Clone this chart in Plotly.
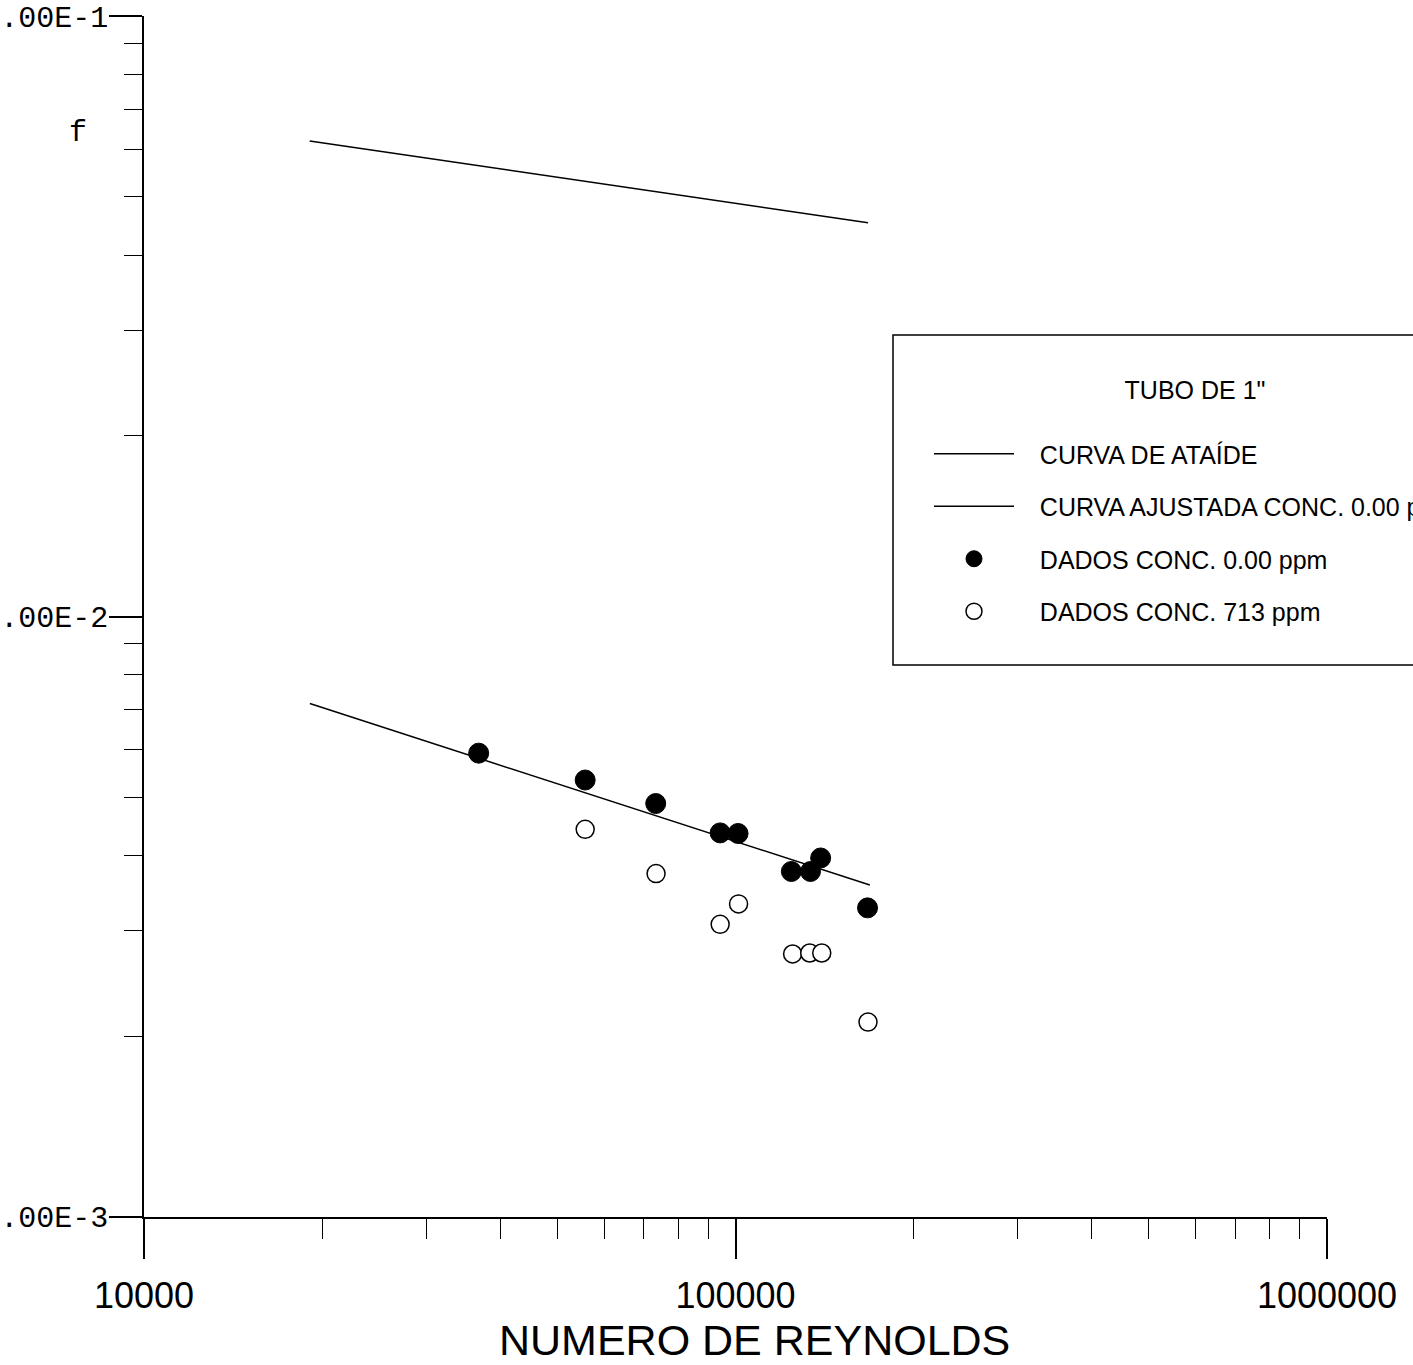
import plotly.graph_objects as go

# ---- data ----
re_ataide = [19060, 167500]
f_ataide = [0.0620, 0.0453]

re_fit = [19070, 168700]
f_fit = [0.00716, 0.00357]

re_0ppm = [36800, 55700, 73300, 94200, 101000, 124300, 133900, 139300, 167200]
f_0ppm = [0.00592, 0.00534, 0.00488, 0.00436, 0.00435, 0.00376, 0.00376, 0.00396, 0.00327]

re_713ppm = [55700, 73400, 94200, 101200, 124900, 133500, 139900, 167500]
f_713ppm = [0.00442, 0.00373, 0.00307, 0.00332, 0.00274, 0.00275, 0.00275, 0.00211]

x_tickvals = [1e4, 1e5, 1e6]
x_ticktext = ["10000", "100000", "1000000"]
y_tickvals = [1e-3, 1e-2, 1e-1]
y_ticktext = ["1.00E-3", "1.00E-2", "1.00E-1"]

x_minor = [m * d for d in (1e4, 1e5) for m in range(2, 10)]
y_minor = [m * d for d in (1e-3, 1e-2) for m in range(2, 10)]

W, H = 1413, 1365
ML, MR, MT, MB = 144, 86, 16, 148
PW, PH = W - ML - MR, H - MT - MB

def px_to_paper_x(px):
    return (px - ML) / PW

def px_to_paper_y(py):
    return (H - MB - py) / PH

SANS = "Liberation Sans, Arial, sans-serif"
MONO = "Liberation Mono, Courier New, monospace"
PAD = "\u00a0\u00a0\u00a0"

fig = go.Figure()
fig.add_trace(go.Scatter(
    x=re_ataide, y=f_ataide, mode="lines", name=PAD + "CURVA DE ATAÍDE",
    line=dict(color="black", width=1.5), legendgroup="a"))
fig.add_trace(go.Scatter(
    x=re_fit, y=f_fit, mode="lines", name=PAD + "CURVA AJUSTADA CONC. 0.00 ppm",
    line=dict(color="black", width=1.5), legendgroup="b"))
fig.add_trace(go.Scatter(
    x=re_0ppm, y=f_0ppm, mode="markers", name=PAD + "DADOS CONC. 0.00 ppm",
    marker=dict(symbol="circle", size=20, color="black",
                line=dict(color="black", width=1)), legendgroup="c"))
fig.add_trace(go.Scatter(
    x=re_713ppm, y=f_713ppm, mode="markers", name=PAD + "DADOS CONC. 713 ppm",
    marker=dict(symbol="circle", size=18, color="white",
                line=dict(color="black", width=1.5)), legendgroup="d"))

fig.update_layout(
    width=W, height=H,
    margin=dict(l=ML, r=MR, t=MT, b=MB, autoexpand=False),
    paper_bgcolor="white", plot_bgcolor="white",
    font=dict(family=SANS, color="black"),
    showlegend=True,
    legend=dict(
        x=px_to_paper_x(929), y=px_to_paper_y(366),
        xanchor="left", yanchor="top",
        borderwidth=0, bgcolor="rgba(0,0,0,0)",
        font=dict(family=SANS, size=25, color="black"),
        title=dict(text='TUBO DE 1"<br> ', side="top center",
                   font=dict(family=SANS, size=25, color="black")),
        traceorder="grouped", tracegroupgap=17, itemwidth=80,
    ),
    shapes=[dict(
        type="rect", xref="paper", yref="paper",
        x0=px_to_paper_x(893), x1=px_to_paper_x(1440),
        y0=px_to_paper_y(665), y1=px_to_paper_y(335),
        line=dict(color="black", width=1.5), fillcolor="rgba(0,0,0,0)",
        layer="above")],
    xaxis=dict(
        type="log", range=[4, 6],
        showline=True, linecolor="black", linewidth=1.5,
        showgrid=False, zeroline=False,
        ticks="outside", ticklen=40, tickwidth=1.5, tickcolor="black",
        tickvals=x_tickvals, ticktext=x_ticktext,
        tickfont=dict(family=SANS, size=36, color="black"),
        ticklabelstandoff=6, ticklabeloverflow="allow",
        minor=dict(tickvals=x_minor, ticks="outside", ticklen=20,
                   tickwidth=1.2, tickcolor="black", showgrid=False),
    ),
    yaxis=dict(
        type="log", range=[-3.0005, -0.9995],
        showline=True, linecolor="black", linewidth=1.5,
        showgrid=False, zeroline=False,
        ticks="outside", ticklen=33, tickwidth=1.5, tickcolor="black",
        tickvals=y_tickvals, ticktext=y_ticktext,
        tickfont=dict(family=MONO, size=30, color="black"),
        ticklabelstandoff=-5, ticklabeloverflow="allow",
        minor=dict(tickvals=y_minor, ticks="outside", ticklen=18,
                   tickwidth=1.2, tickcolor="black", showgrid=False),
    ),
    annotations=[
        dict(text="f", xref="paper", yref="paper",
             x=px_to_paper_x(78), y=px_to_paper_y(133),
             xanchor="center", yanchor="middle",
             showarrow=False, font=dict(family=MONO, size=30, color="black")),
        dict(text="NUMERO DE REYNOLDS", xref="paper", yref="paper",
             x=px_to_paper_x(754), y=px_to_paper_y(1340),
             xanchor="center", yanchor="middle",
             showarrow=False, font=dict(family=SANS, size=43, color="black")),
    ],
)

fig.write_html("out.html")
